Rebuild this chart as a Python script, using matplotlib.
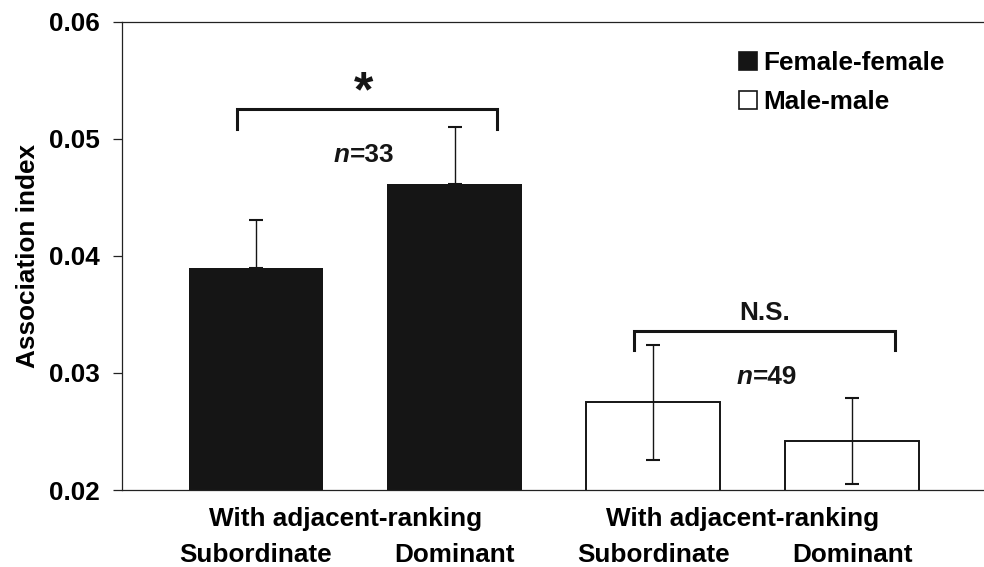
import matplotlib
matplotlib.use("Agg")
import matplotlib.pyplot as plt
from matplotlib.patches import Patch

plt.rcParams['font.family'] = ['Liberation Sans', 'DejaVu Sans']
plt.rcParams['font.weight'] = 'bold'

# ---- data ----
bar_labels = ['Subordinate', 'Dominant', 'Subordinate', 'Dominant']
group_title = 'With adjacent-ranking'
series_names = ['Female-female', 'Male-male']
female_means = [0.0390, 0.0461]
female_err = [0.0041, 0.0049]
male_means = [0.0275, 0.0242]
male_err = [0.0049, 0.0037]
sample_sizes = [33, 49]
significance = ['*', 'N.S.']
y_ticks = [0.02, 0.03, 0.04, 0.05, 0.06]

FS = 18.8
INK = '#151515'

fig = plt.figure(figsize=(9.84, 5.67), dpi=100)
ax = fig.add_axes([122.3 / 984, 1 - 490 / 567, (984 - 122.3) / 984, (490 - 21.7) / 567])

pos_f = [0, 1]
pos_m = [2, 3]
width = 0.675

ax.bar(pos_f, female_means, width=width, color=INK, edgecolor=INK, linewidth=0, zorder=2)
ax.bar(pos_m, male_means, width=width, color='white', edgecolor=INK, linewidth=1.4, zorder=2)

ax.errorbar(pos_f, female_means, yerr=[[0, 0], female_err], fmt='none',
            ecolor=INK, elinewidth=1.0, capsize=4.7, capthick=1.5, zorder=1)
ax.errorbar(pos_m, male_means, yerr=male_err, fmt='none',
            ecolor=INK, elinewidth=1.0, capsize=4.7, capthick=1.5, zorder=3)

ax.set_ylim(y_ticks[0], y_ticks[-1])
ax.set_xlim(-0.671, 3.663)
ax.set_yticks(y_ticks)
ax.set_yticklabels([f'{t:.2f}' for t in y_ticks], fontsize=FS, fontweight='bold')
ax.tick_params(axis='y', direction='out', length=6.5, width=0.9, pad=10, color='#222222')

ax.set_xticks(pos_f + pos_m)
ax.set_xticklabels(bar_labels, fontsize=FS, fontweight='bold')
ax.tick_params(axis='x', length=0, pad=38)

for side in ['left', 'bottom', 'top']:
    ax.spines[side].set_color('#222222')
    ax.spines[side].set_linewidth(0.9)
ax.spines['right'].set_visible(False)

ax.set_ylabel('Association index', fontsize=FS, fontweight='bold')
ax.yaxis.set_label_coords(-0.095, 0.5)

# group captions under each pair of bars
for pos in (pos_f, pos_m):
    xc = (pos[0] + pos[1]) / 2 - 0.05
    ax.annotate(group_title, xy=(xc, y_ticks[0]), xytext=(0, -12.5),
                textcoords='offset points', ha='center', va='top',
                fontsize=FS, fontweight='bold', annotation_clip=False)

# significance brackets, labels and sample sizes
brackets = [(pos_f, 0.05254, 0.0508, 0.05389), (pos_m, 0.0336, 0.0320, 0.0351)]
n_y = [0.04865, 0.02968]
n_shift = [0.0, 0.025]
for (pos, ytop, yend, ylab), sig, n, ny, dx in zip(brackets, significance, sample_sizes,
                                                   n_y, n_shift):
    x0 = pos[0] - 0.095
    x1 = pos[1] + 0.215
    ax.plot([x0, x0, x1, x1], [yend, ytop, ytop, yend], color=INK, lw=2.2,
            solid_joinstyle='miter', zorder=4)
    xm = (pos[0] + pos[1]) / 2 + 0.045
    if sig == '*':
        ax.text(xm, ylab, sig, ha='center', va='center', fontsize=36, fontweight='bold',
                color=INK)
    else:
        ax.text(xm + 0.015, ylab, sig, ha='center', va='center', fontsize=FS,
                fontweight='bold', color=INK)
    ax.annotate('n', xy=(xm + dx, ny), xytext=(-10.1, 0), textcoords='offset points',
                ha='right', va='center', fontsize=FS, fontweight='bold', style='italic',
                color=INK)
    ax.annotate(f'={n}', xy=(xm + dx, ny), xytext=(-10.1, 0), textcoords='offset points',
                ha='left', va='center', fontsize=FS, fontweight='bold', color=INK)

handles = [Patch(facecolor=INK, edgecolor=INK, linewidth=1.2),
           Patch(facecolor='white', edgecolor=INK, linewidth=1.2)]
leg = fig.legend(handles, series_names, loc='upper left',
                 bbox_to_anchor=(738.7 / 984, 1 - 51 / 567),
                 frameon=False, borderpad=0, borderaxespad=0,
                 handlelength=0.69, handleheight=0.69, handletextpad=0.25,
                 labelspacing=0.57, prop={'weight': 'bold', 'size': FS})

fig.savefig('out.png', dpi=100)
